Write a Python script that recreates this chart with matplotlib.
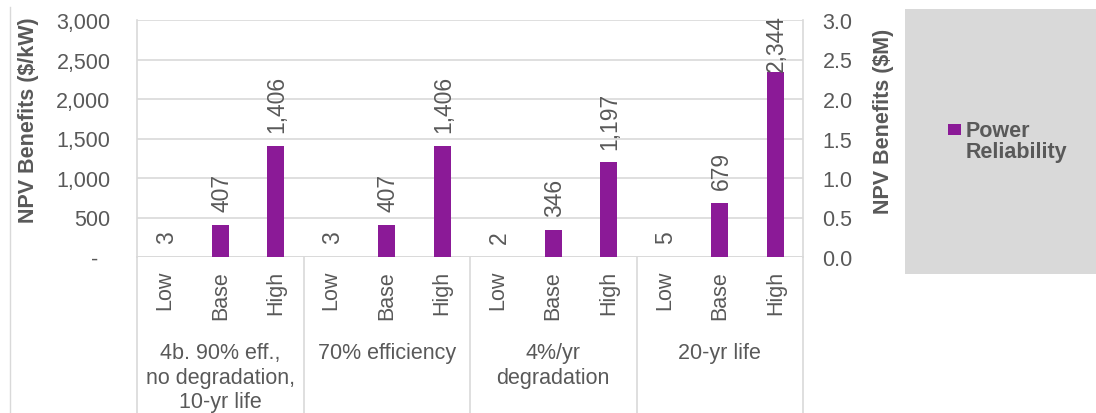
import matplotlib.pyplot as plt
from matplotlib.lines import Line2D
from matplotlib.patches import Rectangle

plt.rcParams['font.family'] = ['Liberation Sans', 'DejaVu Sans']

groups = ['4b. 90% eff.,\nno degradation,\n10-yr life', '70% efficiency',
          '4%/yr\ndegradation', '20-yr life']
cases = ['Low', 'Base', 'High']
values = [[3, 407, 1406],
          [3, 407, 1406],
          [2, 346, 1197],
          [5, 679, 2344]]
left_ticks = [0, 500, 1000, 1500, 2000, 2500, 3000]
right_ticks = [0.0, 0.5, 1.0, 1.5, 2.0, 2.5, 3.0]

purple = '#8B1A97'
grey_txt = '#595959'
grid_c = '#D9D9D9'
fs = 15.5

fig = plt.figure(figsize=(10.96, 4.14), dpi=100)
ax = fig.add_axes([137 / 1096, 1 - 258 / 414, 666 / 1096, 237 / 414])

x = []
h = []
for g, vals in enumerate(values):
    for i, v in enumerate(vals):
        x.append(g * 3 + i)
        h.append(v)
ax.bar(x, h, width=0.31, color=purple, zorder=3)
for xi, v in zip(x, h):
    if v > 2200:
        # no room above the bar: pin the label to the top of the plot
        ax.annotate(f'{v:,}', (xi, 3000), xytext=(1, 4), textcoords='offset points',
                    rotation=90, ha='center', va='top', fontsize=16.5,
                    color=grey_txt, annotation_clip=False, zorder=4)
    else:
        ax.annotate(f'{v:,}', (xi, v), xytext=(1, 10), textcoords='offset points',
                    rotation=90, ha='center', va='bottom', fontsize=16.5,
                    color=grey_txt, annotation_clip=False)

ax.set_xlim(-0.5, 11.5)
ax.set_ylim(0, 3000)
ax.set_yticks(left_ticks)
ax.set_yticklabels(['-  '] + [f'{t:,}' for t in left_ticks[1:]])
ax.grid(axis='y', color=grid_c, lw=1.2, zorder=0)
ax.tick_params(axis='y', length=0, labelsize=fs, labelcolor=grey_txt, pad=19)
ax.tick_params(axis='x', length=0, labelbottom=False)
for s in ['top', 'right', 'bottom']:
    ax.spines[s].set_visible(False)
ax.spines['left'].set_color(grid_c)
ax.spines['left'].set_linewidth(1.2)
ax.set_ylabel('NPV Benefits ($/kW)', fontsize=fs, fontweight='bold', color=grey_txt)
ax.yaxis.set_label_coords(-0.147, 0.58)

ax2 = ax.twinx()
ax2.set_ylim(0, 3.0)
ax2.set_yticks(right_ticks)
ax2.set_yticklabels([f'{t:.1f}' for t in right_ticks])
ax2.tick_params(axis='y', length=0, labelsize=fs, labelcolor=grey_txt, pad=14)
for s in ax2.spines.values():
    s.set_visible(False)
ax2.set_ylabel('NPV Benefits ($M)', fontsize=fs, fontweight='bold', color=grey_txt)
ax2.yaxis.set_label_coords(1.105, 0.578)

# x axis line and group separators running down into the label area
ax.axhline(0, color=grid_c, lw=1.2, zorder=2)
for g in range(5):
    xs = g * 3 - 0.5
    ax.add_line(Line2D([xs, xs], [-0.66, 0], transform=ax.get_xaxis_transform(),
                       color=grid_c, lw=1.2, clip_on=False))
ax.add_line(Line2D([11.5, 11.5], [0, 1], transform=ax.get_xaxis_transform(),
                   color=grid_c, lw=1.2, clip_on=False))

# case labels and group labels
for g, name in enumerate(groups):
    for i, c in enumerate(cases):
        ax.text(g * 3 + i, -0.055, c, rotation=90, ha='center', va='top',
                fontsize=fs, color=grey_txt, transform=ax.get_xaxis_transform())
    ax.text(g * 3 + 1, -0.36, name, ha='center', va='top', fontsize=fs,
            color=grey_txt, linespacing=1.22, transform=ax.get_xaxis_transform())

# chart border on the far left
fig.add_artist(Line2D([10 / 1096, 10 / 1096], [0, 1 - 8 / 414], color=grid_c, lw=1))

# legend panel
fig.add_artist(Rectangle((905 / 1096, 1 - 275 / 414), 191 / 1096, 265 / 414,
                         facecolor='#D9D9D9', edgecolor='none'))
fig.add_artist(Rectangle((948 / 1096, 1 - 136 / 414), 13 / 1096, 11 / 414,
                         facecolor=purple, edgecolor='none'))
fig.text(966 / 1096, 1 - 142 / 414, 'Power\nReliability', ha='left', va='center',
         fontsize=fs, fontweight='bold', color=grey_txt, linespacing=1.0)

fig.savefig('out.png', dpi=100)
